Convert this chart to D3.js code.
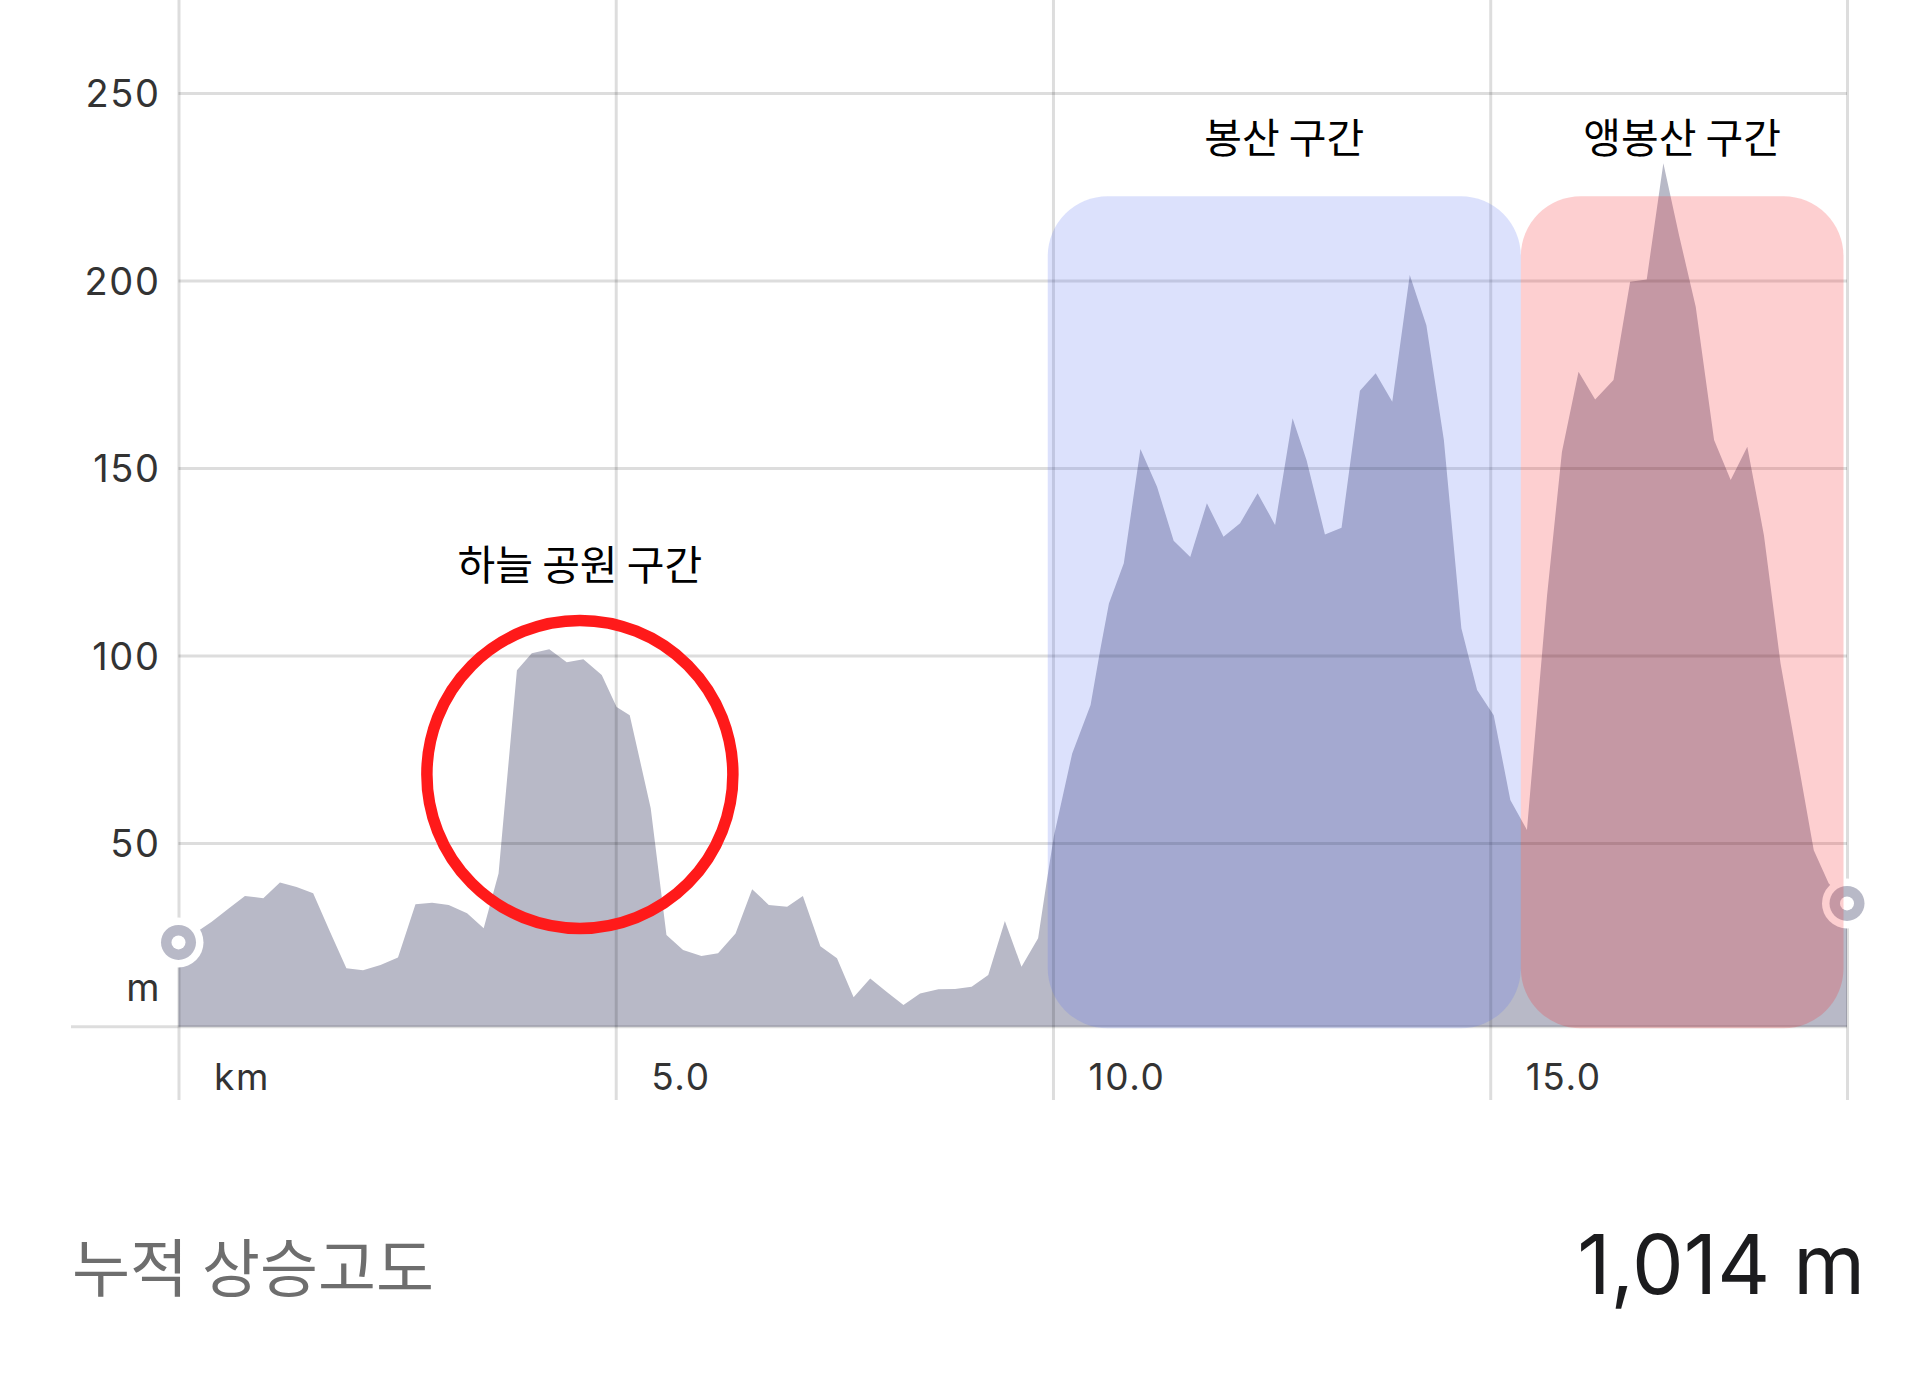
<!DOCTYPE html>
<html><head><meta charset="utf-8">
<script src="https://cdn.jsdelivr.net/npm/d3@7"></script>
<style>html,body{margin:0;padding:0;background:#fff;} svg{display:block}</style>
</head><body>
<svg id="chart" width="1920" height="1380"></svg>
<script>
// ---- data ----
const distanceKm = [0.00,0.19,0.38,0.57,0.76,0.97,1.16,1.35,1.54,1.73,1.92,2.11,2.31,2.51,2.71,2.90,3.09,3.30,3.49,3.66,3.87,4.04,4.24,4.44,4.63,4.84,5.01,5.16,5.40,5.58,5.77,5.98,6.17,6.37,6.56,6.75,6.96,7.14,7.34,7.53,7.72,7.91,8.10,8.29,8.48,8.69,8.88,9.07,9.26,9.45,9.64,9.83,9.93,10.01,10.22,10.43,10.54,10.64,10.81,11.00,11.19,11.38,11.57,11.76,11.95,12.14,12.34,12.54,12.74,12.90,13.11,13.30,13.51,13.69,13.88,14.08,14.27,14.47,14.67,14.85,15.04,15.23,15.42,15.65,15.82,16.01,16.20,16.41,16.60,16.79,16.98,17.16,17.35,17.56,17.75,17.94,18.13,18.32,18.51,18.70,18.87,19.08];
const elevationM = [23.5,26,29,32.5,35.9,35.3,39.5,38.3,36.6,26.5,16.6,16.1,17.5,19.5,33.7,34.1,33.5,31.3,27.3,41.9,96.1,100.6,101.7,98.2,99,94.8,86.3,84.1,59.3,25.5,21.5,19.9,20.6,25.9,37.7,33.5,33,35.9,22.5,19.3,8.9,13.9,10.3,6.8,9.9,11,11.1,11.7,14.8,29.2,17,24.6,40,51.8,73.9,86.8,101.5,113.9,124.6,155.1,145,130.6,126.3,140.6,131.7,135.3,143.3,134.8,163.3,152.1,132.3,134.1,170.6,175.3,167.7,201.5,188.1,157.5,107.3,90.8,84.1,61.5,53.5,116,154.3,175.7,168.3,173.5,199.7,200.3,231.3,212,193,157.5,146.8,155.7,132.1,97.9,73,48.1,39.3,33.9];
const yTicks = [50, 100, 150, 200, 250];
const xTicks = [0, 5, 10, 15];
const xTickLabels = ["km", "5.0", "10.0", "15.0"];
const xMaxKm = 19.08;
const unitLabel = "m";
const sectionNames = ["봉산 구간", "앵봉산 구간"];
const sectionStartKm = [9.94, 15.35];
const sectionEndKm = [15.35, 19.04];
const sectionTopM = 222.5;
const sectionBottomM = 0.6;
const highlightName = "하늘 공원 구간";
const highlightKm = 4.59;
const highlightM = 68.3;
const summaryLabel = "누적 상승고도";
const summaryValue = "1,014 m";

// ---- chart ----
const svg = d3.select("#chart");
svg.append("rect").attr("width", 1920).attr("height", 1380).attr("fill", "#fff");

const x = d3.scaleLinear().domain([0, xMaxKm]).range([178.5, 1847]);
const y = d3.scaleLinear().domain([0, 250]).range([1030.5, 93]);
const baseM = 1;
const data = distanceKm.map((d, i) => ({km: d, m: elevationM[i]}));
const gridColor = "rgba(0,0,0,0.135)";
const numFont = "Inter, 'Liberation Sans', sans-serif";
const krFont = "'Noto Sans CJK KR', 'Noto Sans', sans-serif";

// area
const area = d3.area().x(d => x(d.km)).y0(y(baseM)).y1(d => y(d.m));
svg.append("path").datum(data).attr("d", area).attr("fill", "#b8b9c7");

// y axis with gridlines
const yAxis = d3.axisLeft(y).tickValues(yTicks).tickSize(-(x(xMaxKm) - x(0))).tickPadding(18).tickFormat(d3.format("d"));
const gy = svg.append("g").attr("transform", `translate(${x(0)},0)`).call(yAxis);
gy.select(".domain").remove();
gy.selectAll(".tick line").attr("stroke", gridColor).attr("stroke-width", 3);
gy.selectAll(".tick text").attr("font-family", numFont).attr("font-size", 38).attr("letter-spacing", 1.6)
  .attr("fill", "#333").attr("dy", "0.36em");

// x axis with full-height gridlines
const xAxis = d3.axisBottom(x).tickValues([...xTicks, xMaxKm]).tickSize(1100).tickPadding(0)
  .tickFormat((d, i) => i < xTickLabels.length ? xTickLabels[i] : "");
const gx = svg.append("g").attr("transform", "translate(0,0)").call(xAxis);
gx.select(".domain").remove();
gx.selectAll(".tick line").attr("stroke", gridColor).attr("stroke-width", 3);
gx.selectAll(".tick text").attr("font-family", numFont).attr("font-size", 37).attr("letter-spacing", 1.6)
  .attr("fill", "#333").attr("text-anchor", "start").attr("x", 35).attr("y", 1090).attr("dy", 0);

// baseline
svg.append("line").attr("x1", 71).attr("x2", x(xMaxKm)).attr("y1", y(baseM)).attr("y2", y(baseM))
  .attr("stroke", gridColor).attr("stroke-width", 3);

// unit label
svg.append("text").attr("x", x(0) - 19).attr("y", 1001).attr("text-anchor", "end")
  .attr("font-family", numFont).attr("font-size", 38).attr("fill", "#333").text(unitLabel);

// start / end markers
[data[0], data[data.length - 1]].forEach(d => {
  const g = svg.append("g").attr("transform", `translate(${x(d.km)},${y(d.m)})`);
  g.append("circle").attr("r", 25).attr("fill", "#fff");
  g.append("circle").attr("r", 17.5).attr("fill", "#b8b9c7");
  g.append("circle").attr("r", 7).attr("fill", "#fff");
});

// sections
const sectionFill = ["rgba(90,115,240,0.21)", "rgba(246,37,41,0.22)"];
sectionNames.forEach((name, i) => {
  svg.append("rect")
    .attr("x", x(sectionStartKm[i])).attr("y", y(sectionTopM))
    .attr("width", x(sectionEndKm[i]) - x(sectionStartKm[i]))
    .attr("height", y(sectionBottomM) - y(sectionTopM))
    .attr("rx", 60).attr("ry", 60)
    .attr("fill", sectionFill[i]);
  const cx = (x(sectionStartKm[i]) + x(sectionEndKm[i])) / 2;
  svg.append("text").attr("x", cx).attr("y", 134.5).attr("text-anchor", "middle")
    .attr("dominant-baseline", "central")
    .attr("font-family", krFont).attr("font-size", 41).attr("fill", "#000").text(name);
});

// highlight circle
svg.append("ellipse").attr("cx", x(highlightKm)).attr("cy", y(highlightM))
  .attr("rx", 153).attr("ry", 154).attr("fill", "none")
  .attr("stroke", "#ff1a1a").attr("stroke-width", 11.5);
svg.append("text").attr("x", x(highlightKm)).attr("y", 561.5).attr("text-anchor", "middle")
  .attr("dominant-baseline", "central")
  .attr("font-family", krFont).attr("font-size", 41).attr("fill", "#000").text(highlightName);

// summary row
svg.append("text").attr("x", 72).attr("y", 1263).attr("dominant-baseline", "central")
  .attr("font-family", krFont).attr("font-size", 63).attr("fill", "#6e6e6e").text(summaryLabel);
svg.append("text").attr("x", 1865).attr("y", 1294).attr("text-anchor", "end")
  .attr("font-family", numFont).attr("font-size", 82).attr("fill", "#1c1c1e").text(summaryValue);
</script>
</body></html>
